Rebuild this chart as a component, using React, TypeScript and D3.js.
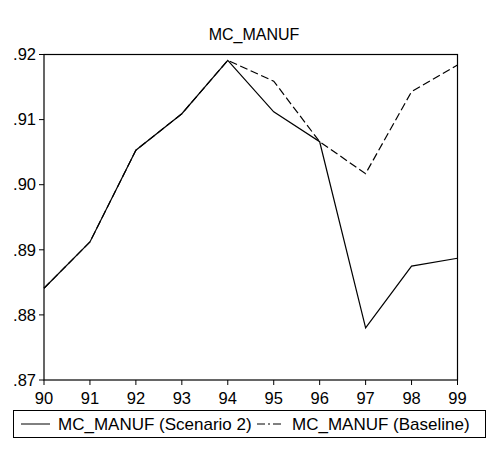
import React from "react";
import * as d3 from "d3";

const years = [90, 91, 92, 93, 94, 95, 96, 97, 98, 99];
const scenario2 = [0.8841, 0.8912, 0.9053, 0.9109, 0.9191, 0.9112, 0.9066, 0.8780, 0.8875, 0.8887];
const baseline = [0.8841, 0.8912, 0.9053, 0.9109, 0.9191, 0.9159, 0.9066, 0.9017, 0.9143, 0.9184];
const yTicks = [0.87, 0.88, 0.89, 0.90, 0.91, 0.92];
const title = "MC_MANUF";
const legendLabels = ["MC_MANUF (Scenario 2)", "MC_MANUF (Baseline)"];

export default function App() {
  const W = 487, H = 457;
  const left = 44, right = 457.5, top = 54.5, bottom = 380;
  const x = d3.scaleLinear().domain([90, 99]).range([left, right]);
  const y = d3.scaleLinear().domain([0.87, 0.92]).range([bottom, top]);
  const line = d3.line<number>().x((_, i) => x(years[i])).y((d) => y(d));
  const font = "Liberation Sans, Arial, sans-serif";
  const fmt = (v: number) => v.toFixed(2).replace(/^0/, "");
  return (
    <svg width={W} height={H} style={{ position: "absolute", left: 0, top: 0 }} fontFamily={font}>
      <rect width={W} height={H} fill="white" />
      <text x={254} y={40} textAnchor="middle" fontSize={16}>{title}</text>
      <path d={line(baseline) || ""} fill="none" stroke="black" strokeWidth={1.2} strokeDasharray="8,3.5" />
      <path d={line(scenario2) || ""} fill="none" stroke="black" strokeWidth={1.2} />
      <rect x={left} y={top} width={right - left} height={bottom - top} fill="none" stroke="black" strokeWidth={1.2} />
      {yTicks.map((t) => (
        <g key={t}>
          <line x1={left - 5} x2={left} y1={y(t)} y2={y(t)} stroke="black" />
          <text x={left - 8} y={y(t)} dy="0.35em" textAnchor="end" fontSize={16.5}>{fmt(t)}</text>
        </g>
      ))}
      {years.map((t) => (
        <g key={t}>
          <line x1={x(t)} x2={x(t)} y1={bottom} y2={bottom + 5} stroke="black" />
          <text x={x(t)} y={bottom + 24} textAnchor="middle" fontSize={16.5}>{t}</text>
        </g>
      ))}
      <rect x={13.5} y={410.5} width={472} height={27} fill="none" stroke="black" />
      <line x1={21} x2={50} y1={424} y2={424} stroke="black" />
      <text x={58} y={424} dy="0.35em" fontSize={17}>{legendLabels[0]}</text>
      <line x1={257} x2={284} y1={424} y2={424} stroke="black" strokeDasharray="8,3,2,3" />
      <text x={292} y={424} dy="0.35em" fontSize={17}>{legendLabels[1]}</text>
    </svg>
  );
}
